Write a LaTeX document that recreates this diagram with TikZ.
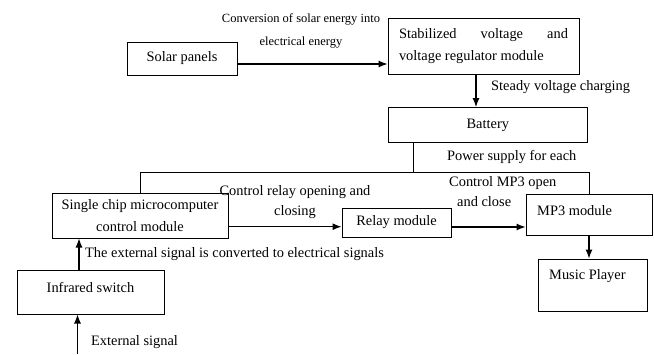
\documentclass[tikz,border=0pt]{standalone}
\usepackage{fontspec}
\setmainfont{Liberation Serif}
\usetikzlibrary{arrows.meta, positioning, calc}

\begin{document}
\begin{tikzpicture}[x=1pt, y=-1pt, >={Latex[length=9pt, width=7pt]},
  box/.style={draw, line width=1pt, inner sep=0pt, font=\fontsize{14.4}{22}\selectfont},
  lab/.style={inner sep=0pt, font=\fontsize{14.4}{20}\selectfont},
  smalllab/.style={inner sep=0pt, font=\fontsize{12.5}{23}\selectfont},
  arr/.style={->, line width=1.1pt}]

\useasboundingbox (0,0) rectangle (654,354);

% ---- Charging chain -----------------------------------------------------
\node[box, minimum width=110, minimum height=33] (solar) at (182,58.5) {Solar panels};
\node[box, minimum width=191, minimum height=56, text width=169, align=justify]
      (stab) at (483.5,46) {Stabilized voltage and\linebreak voltage regulator module};
\node[box, minimum width=199, minimum height=35] (bat) at (487.8,125) {Battery};

\draw[arr] ([yshift=-5.5pt]solar.east) -- ([yshift=-5.5pt]solar.east -| stab.west);
\node[smalllab, align=center] (conv) at (301,30.5) {Conversion of solar energy into\\electrical energy};

\draw[arr] ([xshift=-7.5pt]stab.south) -- ([xshift=-7.5pt]stab.south |- bat.north);
\node[lab, anchor=west] (steady) at (491,87) {Steady voltage charging};

% ---- Control chain ------------------------------------------------------
\node[box, minimum width=176, minimum height=45, align=center]
      (mcu) at (140,215.5) {Single chip microcomputer\\control module};
\node[box, minimum width=109, minimum height=29] (relay) at (396.5,222.5) {Relay module};
\node[box, minimum width=126, minimum height=41] (mp3) at (589,214.5) {};
\node[lab, anchor=west] (mp3txt) at (537,211) {MP3 module};
\node[box, minimum width=109, minimum height=52] (music) at (592.5,285) {};
\node[lab, anchor=west] (musictxt) at (549,276) {Music Player};
\node[box, minimum width=147, minimum height=44] (ir) at (90.5,292) {};
\node[lab] (irtxt) at (90.5,287) {Infrared switch};

% power bus from the battery
\coordinate (bus) at (413.5,172.7);
\draw[line width=1pt] (bus |- bat.south) -- (bus);
\draw[line width=1pt] (mcu.north) |- (bus) -| (mp3.north);
\node[lab, anchor=west] (power) at (447,157) {Power supply for each};

\draw[arr] ([yshift=-11.2pt]mcu.east) -- ([yshift=-11.2pt]mcu.east -| relay.west);
\node[lab, align=center] (ctrlrelay) at (295,202) {Control relay opening and\\closing};
\draw[arr] ([yshift=-4.5pt]relay.east) -- ([yshift=-4.5pt]relay.east -| mp3.west);
\node[lab, align=left, anchor=west] (ctrlmp3) at (449,192) {Control MP3 open\\\hspace*{8pt}and close};
\draw[arr] (mp3.south) -- (mp3.south |- music.north);

% ---- Signal input -------------------------------------------------------
\draw[arr] ([xshift=-11.5pt]ir.north) -- ([xshift=-11.5pt]ir.north |- mcu.south);
\node[lab, anchor=west] (convsig) at (85,254) {The external signal is converted to electrical signals};
\coordinate (extin) at (77.5,354);
\draw[arr] (extin) -- (extin |- ir.south);
\node[lab, anchor=west] (extsig) at (91,342) {External signal};

\end{tikzpicture}
\end{document}
